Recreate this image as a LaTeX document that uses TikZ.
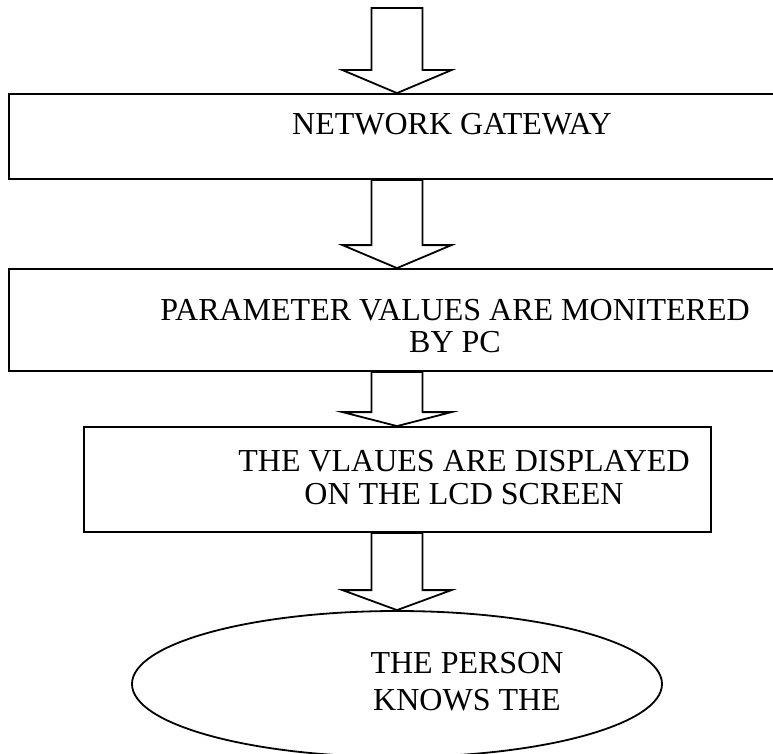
\documentclass[tikz,border=0pt]{standalone}
\usepackage{fontspec}
\setmainfont{Liberation Serif}
\usetikzlibrary{shapes.geometric,calc}
\tikzset{
  stage/.style={draw=black, line width=1.8pt, rectangle, inner sep=0pt},
  oval/.style={draw=black, line width=1.8pt, ellipse, inner sep=0pt},
  caption/.style={inner sep=0pt, anchor=base, font=\fontsize{32}{36}\selectfont},
  blockarrow/.style={draw=black, line width=1.8pt, line join=miter},
}
% hollow block arrow: #1 top of shaft, #2 tip, #3 head height
\newcommand{\hollowarrow}[3]{%
  \draw[blockarrow] ($(#1)+(-25.5,0)$) -- ($(#2)+(-25.5,-#3)$) -- ($(#2)+(-54.5,-#3)$)
    -- (#2) -- ($(#2)+(54.5,-#3)$) -- ($(#2)+(25.5,-#3)$) -- ($(#1)+(25.5,0)$) -- cycle;}
\begin{document}
\begin{tikzpicture}[x=1pt,y=-1pt]
  \clip (0,0) rectangle (773,754);
  \fill[white] (0,0) rectangle (773,754);

  % flow stages
  \node[stage, minimum width=791pt, minimum height=85pt]  (gateway) at (404.5,136.5) {};
  \node[stage, minimum width=791pt, minimum height=102pt] (monitor) at (404.5,320) {};
  \node[stage, minimum width=627pt, minimum height=105pt] (display) at (397.5,479.5) {};
  \node[oval,  minimum width=530pt, minimum height=146pt] (person)  at (397,684) {};

  % captions
  \node[caption] (tgw)  at (452,135) {NETWORK GATEWAY};
  \node[caption] (tm1)  at (455,320) {PARAMETER VALUES ARE MONITERED};
  \node[caption] (tm2)  at (455,352) {BY PC};
  \node[caption] (td1)  at (464,471) {THE VLAUES ARE DISPLAYED};
  \node[caption] (td2)  at (464,504) {ON THE LCD SCREEN};
  \node[caption] (tp1)  at (467,673) {THE PERSON};
  \node[caption] (tp2)  at (467,710) {KNOWS THE};

  % arrow axis and end points
  \coordinate (axis) at (397,0);
  \coordinate (in)   at (397,8);
  \coordinate (g1) at (gateway.north -| axis);
  \coordinate (g2) at (gateway.south -| axis);
  \coordinate (m1) at (monitor.north -| axis);
  \coordinate (m2) at (monitor.south -| axis);
  \coordinate (d1) at (display.north -| axis);
  \coordinate (d2) at (display.south -| axis);
  \coordinate (p1) at (person.north);

  \hollowarrow{in}{g1}{23}
  \hollowarrow{g2}{m1}{23}
  \hollowarrow{m2}{d1}{14}
  \hollowarrow{d2}{p1}{20}
\end{tikzpicture}
\end{document}
